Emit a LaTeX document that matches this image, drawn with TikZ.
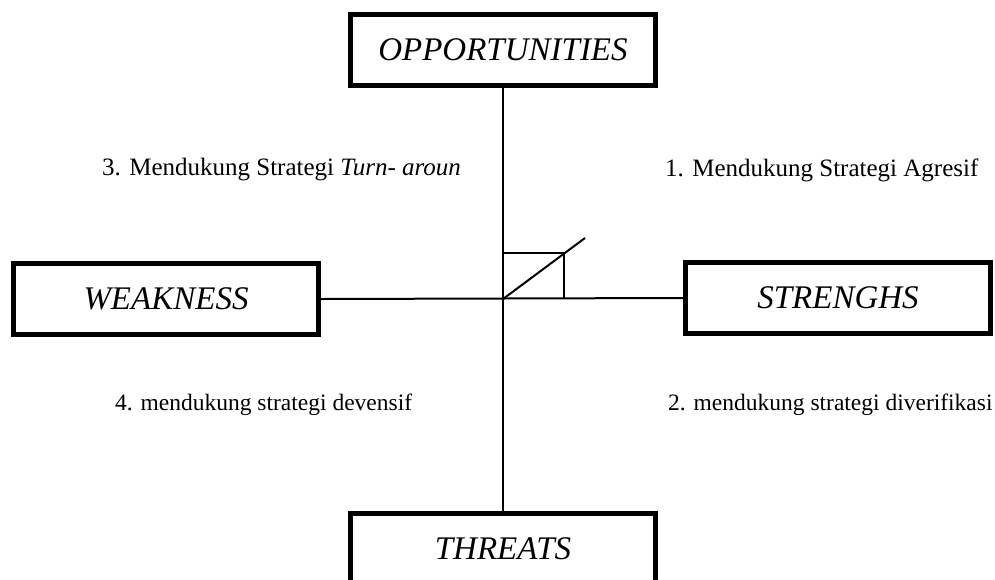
\documentclass[tikz,border=0pt]{standalone}
\usepackage{fontspec}
\setmainfont{Liberation Serif}
\begin{document}
\begin{tikzpicture}[x=1pt,y=-1pt,
  factor/.style={draw, line width=5pt, minimum width=305pt, minimum height=71pt,
    inner sep=0pt, font=\fontsize{33}{36}\selectfont\itshape},
  axis/.style={line width=2pt},
  quad/.style={font=\fontsize{25}{30}\selectfont, inner sep=0pt},
  quadlow/.style={font=\fontsize{23.5}{28}\selectfont, inner sep=0pt}]
\useasboundingbox (0,0) rectangle (995,579);
\node[factor] (opp) at (503,50) {OPPORTUNITIES};
\node[factor] (weak) at (166,299) {WEAKNESS};
\node[factor] (str) at (838,298) {STRENGHS};
\node[factor] (thr) at (503,549) {THREATS};
% the two axes
\draw[axis] (opp.south) -- (thr.north);
\draw[axis] (weak.east) -- (str.west);
\coordinate (o) at (opp.south |- weak.east);
% small sketch at the origin
\coordinate (tip) at (585,238);
\coordinate (corner) at (564,253);
\draw[axis] (o) -- (tip);
\draw[axis] (o |- corner) -- (corner) -- (corner |- o);
% quadrant labels
\node[quad, anchor=west] (q3) at (102,170) {3. Mendukung Strategi \textit{Turn- aroun}};
\node[quad, anchor=west] (q1) at (665,170) {1. Mendukung Strategi Agresif};
\node[quadlow, anchor=west] (q4) at (115,405) {4. mendukung strategi devensif};
\node[quadlow, anchor=west] (q2) at (668,405) {2. mendukung strategi diverifikasi};
\end{tikzpicture}
\end{document}
